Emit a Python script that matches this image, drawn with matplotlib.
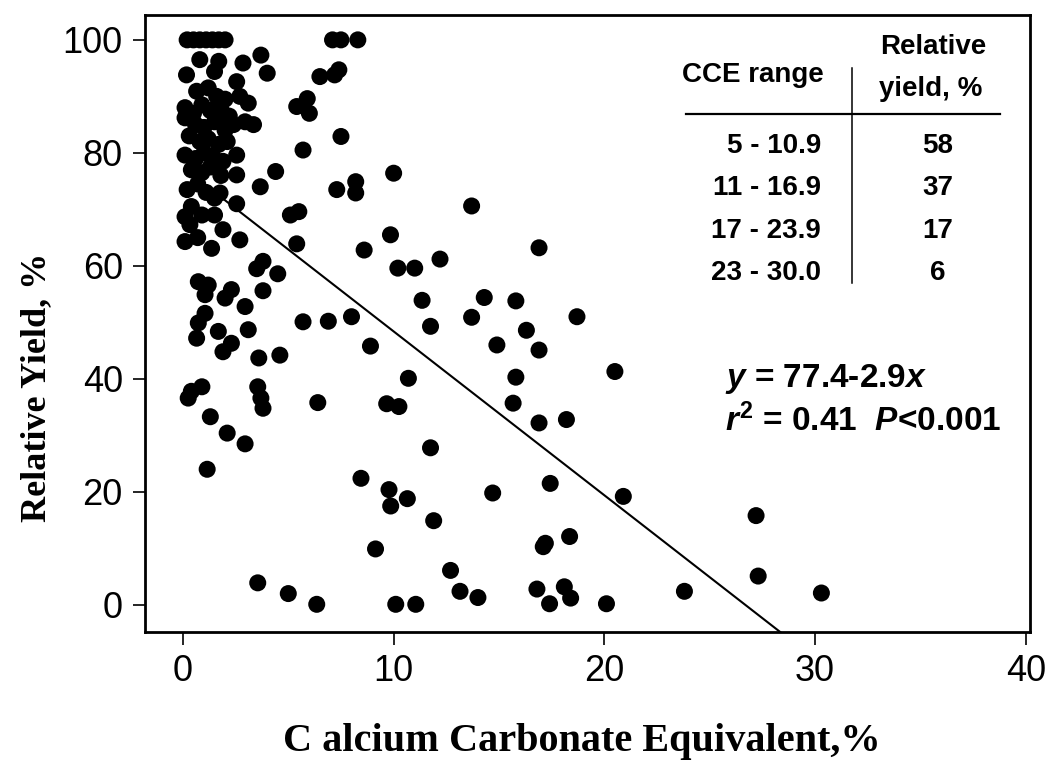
import matplotlib
matplotlib.use("Agg")
import matplotlib.pyplot as plt
import numpy as np

# ---------------- data ----------------
cce = [
    # y = 100 row and upper cluster
    0.2, 0.5, 0.8, 1.1, 1.4, 1.7, 2.0,
    0.8, 1.7, 1.5, 2.85, 3.7, 4.0, 2.55, 0.17, 0.65,
    1.2, 1.6, 2.0, 3.1, 2.7, 0.1, 0.5, 0.9, 1.3, 1.8, 2.2, 0.1, 0.6, 1.0, 1.5,
    2.0, 2.4, 3.35, 2.95, 0.3, 0.8, 1.2, 1.7, 2.1, 0.1, 0.6, 1.0, 1.4, 1.9, 2.55,
    0.4, 0.9, 1.3, 1.8, 2.55, 0.2, 0.7, 1.1, 1.5, 1.76, 2.55, 4.4, 3.67,
    0.33, 0.1, 0.9, 1.5, 1.9, 1.36, 2.7, 0.7, 0.1, 0.4,
    # 5-12 % upper group
    5.4, 5.9, 6.0, 5.7, 7.5, 10.0, 7.3, 8.2, 8.2, 5.1, 5.5, 5.4, 8.6, 9.85,
    12.2, 10.2, 11.0, 7.1, 7.5, 8.3, 6.5, 7.2, 7.4,
    # middle
    3.5, 3.8, 4.5, 3.8, 2.95, 5.7, 6.9, 8.0, 0.73, 1.2, 2.3, 2.0, 1.05, 1.05,
    0.73, 1.68, 0.65, 3.1, 2.3, 1.9, 3.6, 4.6, 8.9, 11.75, 11.35, 10.7, 9.67,
    10.25, 11.75, 0.9, 0.4, 0.25, 3.55, 3.7, 3.8, 1.3, 2.1, 2.95, 1.15, 6.4,
    8.45, 9.78, 9.86, 10.65, 11.9, 9.14, 3.55, 5.0, 6.35, 10.1, 11.05,
    # right part
    13.7, 16.9, 14.3, 15.8, 18.7, 13.7, 16.3, 14.9, 16.9, 20.5, 15.8, 15.67,
    16.9, 18.2, 17.43, 14.7, 20.9, 17.2, 17.1, 18.35, 12.7, 13.15, 14.0, 16.8,
    17.4, 18.1, 18.4, 20.1, 23.8, 27.2, 27.3, 30.3,
]
rel_yield = [
    100, 100, 100, 100, 100, 100, 100,
    96.5, 96.2, 94.4, 95.9, 97.3, 94.1, 92.6, 93.8, 90.9,
    91.5, 90.0, 89.5, 88.8, 90.0, 88.0, 87.0, 88.5, 87.5, 87.8, 86.5, 86.2, 85.0, 84.5, 85.5,
    84.0, 85.0, 85.0, 85.5, 83.0, 82.0, 82.5, 81.5, 82.0, 79.6, 79.0, 80.0, 79.5, 78.5, 79.6,
    77.0, 76.5, 77.5, 76.0, 76.1, 73.5, 74.5, 73.0, 72.0, 72.9, 71.0, 76.7, 74.0,
    67.3, 64.3, 69.0, 69.0, 66.4, 63.1, 64.6, 65.0, 68.7, 70.5,
    88.2, 89.6, 87.0, 80.5, 82.9, 76.4, 73.5, 74.9, 72.9, 69.0, 69.6, 63.9, 62.8, 65.5,
    61.2, 59.6, 59.6, 100, 100, 100, 93.5, 93.8, 94.7,
    59.5, 60.8, 58.6, 55.6, 52.8, 50.1, 50.2, 51.0, 57.2, 56.6, 55.8, 54.3, 54.9, 51.6,
    49.9, 48.4, 47.2, 48.7, 46.3, 44.8, 43.7, 44.2, 45.8, 49.3, 53.9, 40.1, 35.6,
    35.1, 27.8, 38.6, 37.8, 36.6, 38.6, 36.6, 34.8, 33.3, 30.4, 28.5, 24.0, 35.8,
    22.4, 20.4, 17.5, 18.8, 14.9, 9.9, 3.9, 2.0, 0.1, 0.1, 0.1,
    70.6, 63.2, 54.4, 53.8, 51.0, 50.9, 48.6, 46.0, 45.1, 41.3, 40.3, 35.7,
    32.2, 32.8, 21.5, 19.8, 19.2, 10.9, 10.3, 12.1, 6.1, 2.4, 1.3, 2.8,
    0.2, 3.2, 1.2, 0.2, 2.4, 15.8, 5.1, 2.1,
]

intercept = 77.4
slope = -2.9

table_ranges = ["5 - 10.9", "11 - 16.9", "17 - 23.9", "23 - 30.0"]
table_yields = ["58", "37", "17", "6"]

x_ticks = [0, 10, 20, 30, 40]
y_ticks = [0, 20, 40, 60, 80, 100]

# ---------------- figure ----------------
plt.rcParams['mathtext.fontset'] = 'custom'
plt.rcParams['mathtext.rm'] = 'Liberation Sans:bold'
plt.rcParams['mathtext.it'] = 'Liberation Sans:italic:bold'
plt.rcParams['mathtext.bf'] = 'Liberation Sans:bold'

W, H = 1052, 763
fig = plt.figure(figsize=(W / 100, H / 100), dpi=100)
ax = fig.add_axes([145 / W, 1 - 632 / H, (1030 - 145) / W, (632 - 15) / H])

ax.scatter(cce, rel_yield, s=150, c='black', edgecolors='none', zorder=3)

xl = np.array([0.3, 32.0])
ax.plot(xl, intercept + slope * xl, color='black', lw=1.5, zorder=2)

ax.set_xlim(-1.8, 40.2)
ax.set_ylim(-4.8, 104.4)
ax.set_xticks(x_ticks)
ax.set_yticks(y_ticks)
ax.tick_params(direction='out', length=9, width=1.2, labelsize=26,
               pad=7, top=False, right=False)
for lab in ax.get_xticklabels() + ax.get_yticklabels():
    lab.set_family('Liberation Sans')
for sp in ax.spines.values():
    sp.set_linewidth(2.0)

ax.set_xlabel('C alcium Carbonate Equivalent,%', fontsize=29,
              family='Liberation Serif', fontweight='bold')
ax.xaxis.set_label_coords((582 - 145) / 885, (632 - 742) / 617)
ax.xaxis.label.set_va('center')
ax.set_ylabel('Relative Yield, %', fontsize=26,
              family='Liberation Serif', fontweight='bold')
ax.yaxis.set_label_coords((37 - 145) / 885, (632 - 387) / 617)
ax.yaxis.label.set_va('center')
ax.yaxis.label.set_ha('center')

# ---------------- inset table ----------------
def px(x, y):
    return x / W, 1 - y / H

tfs = 20
fig.text(*px(753, 75), 'CCE range', ha='center', va='center', fontsize=tfs,
         family='Liberation Sans', fontweight='bold')
fig.text(*px(933, 47), 'Relative', ha='center', va='center', fontsize=tfs,
         family='Liberation Sans', fontweight='bold')
fig.text(*px(931, 89), 'yield, %', ha='center', va='center', fontsize=tfs,
         family='Liberation Sans', fontweight='bold')
row_y = [146, 188, 231, 273]
for r, v, yy in zip(table_ranges, table_yields, row_y):
    fig.text(*px(821, yy), r, ha='right', va='center', fontsize=tfs,
             family='Liberation Sans', fontweight='bold')
    fig.text(*px(938, yy), v, ha='center', va='center', fontsize=tfs,
             family='Liberation Sans', fontweight='bold')

fig.add_artist(plt.Line2D([686 / W, 1000 / W], [1 - 114 / H, 1 - 114 / H],
                          color='black', lw=1.6))
fig.add_artist(plt.Line2D([852 / W, 852 / W], [1 - 68 / H, 1 - 283 / H],
                          color='black', lw=1.1))

# ---------------- equation ----------------
fig.text(*px(725, 379), r'$y$ = 77.4-2.9$x$', ha='left', va='center',
         fontsize=24, family='Liberation Sans', fontweight='bold')
fig.text(*px(725, 421), r'$r^2$ = 0.41  $P$<0.001', ha='left', va='center',
         fontsize=24, family='Liberation Sans', fontweight='bold')

fig.savefig('out.png', dpi=100)
